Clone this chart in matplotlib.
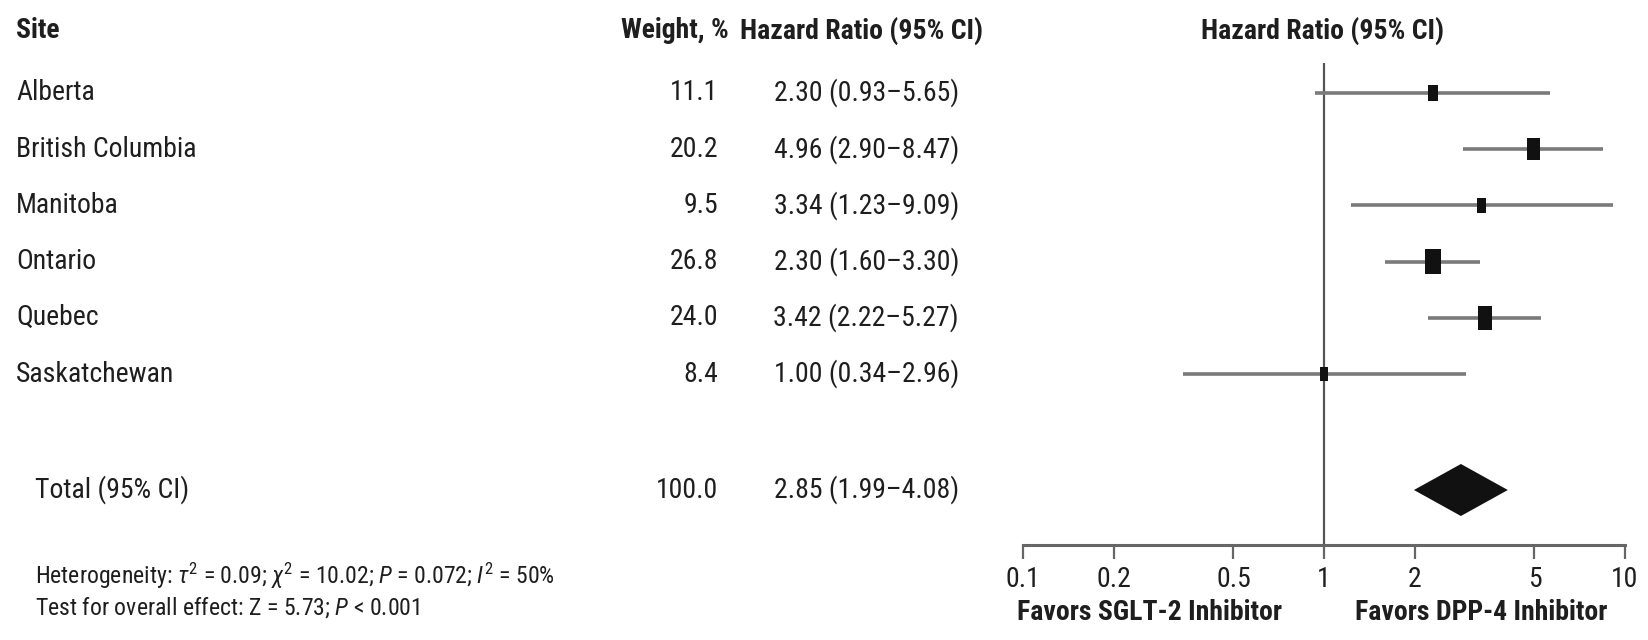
import numpy as np
import matplotlib
matplotlib.use("Agg")
import matplotlib.pyplot as plt
from matplotlib.path import Path
from matplotlib import font_manager

# ---------------- data ----------------
sites = ["Alberta", "British Columbia", "Manitoba", "Ontario", "Quebec", "Saskatchewan"]
weights = [11.1, 20.2, 9.5, 26.8, 24.0, 8.4]
hr = [2.30, 4.96, 3.34, 2.30, 3.42, 1.00]
ci_low = [0.93, 2.90, 1.23, 1.60, 2.22, 0.34]
ci_high = [5.65, 8.47, 9.09, 3.30, 5.27, 2.96]

total_label = "Total (95% CI)"
total_weight = 100.0
total_hr = 2.85
total_low = 1.99
total_high = 4.08

het_text = r"Heterogeneity: $\tau^2$ = 0.09; $\chi^2$ = 10.02; $P$ = 0.072; $I^2$ = 50%"
test_text = r"Test for overall effect: Z = 5.73; $P$ < 0.001"

xticks = [0.1, 0.2, 0.5, 1, 2, 5, 10]
xtick_labels = ["0.1", "0.2", "0.5", "1", "2", "5", "10"]
favors_left = "Favors SGLT-2 Inhibitor"
favors_right = "Favors DPP-4 Inhibitor"
col_headers = ["Site", "Weight, %", "Hazard Ratio (95% CI)"]
plot_title = "Hazard Ratio (95% CI)"

# ---------------- font choice ----------------
names = {f.name for f in font_manager.fontManager.ttflist}
cands = ["Roboto Condensed", "Liberation Sans Narrow", "Open Sans Condensed",
         "Noto Sans Condensed", "Roboto", "Liberation Sans", "DejaVu Sans"]
FONT = next(c for c in cands if c in names or c == "DejaVu Sans")
plt.rcParams["font.family"] = [FONT, "DejaVu Sans"]
plt.rcParams["mathtext.fontset"] = "custom"
plt.rcParams["mathtext.rm"] = FONT
plt.rcParams["mathtext.it"] = FONT + ":italic"
plt.rcParams["mathtext.bf"] = FONT + ":bold"

TXT = "#1e1e1e"
W, H = 1649, 640
fig = plt.figure(figsize=(W / 100, H / 100), dpi=100)
renderer = fig.canvas.get_renderer()

# fit font size so that a site label has the reference width (~180 px)
probe = fig.text(0, 0, "British Columbia", fontsize=20)
pw = probe.get_window_extent(renderer).width
probe.remove()
FS = min(22.0, 20 * 180.0 / pw)
FS_NOTE = FS * 0.86

# pixel layout
row0, row_step = 93.0, 56.2
total_y = 490.0
axis_y = 545.0
x_left, x_right = 1023.0, 1625.0

def row_y(i):
    return row0 + row_step * i

tax = fig.add_axes([0, 0, 1, 1])
tax.set_xlim(0, W)
tax.set_ylim(H, 0)
tax.axis("off")

ax = fig.add_axes([x_left / W, (H - axis_y) / H, (x_right - x_left) / W, axis_y / H])
ax.set_xscale("log")
ax.set_xlim(0.1, 10)
ax.set_ylim(axis_y, 0)
ax.patch.set_alpha(0)

HW = "semibold"
tax.text(16, 31, col_headers[0], fontsize=FS, fontweight=HW, color=TXT, va="center", ha="left")
tax.text(729, 31, col_headers[1], fontsize=FS, fontweight=HW, color=TXT, va="center", ha="right")
tax.text(862, 31, col_headers[2], fontsize=FS, fontweight=HW, color=TXT, va="center", ha="center")
tax.text(1323, 31, plot_title, fontsize=FS, fontweight=HW, color=TXT, va="center", ha="center")

for i, (s, w, h, lo, hi) in enumerate(zip(sites, weights, hr, ci_low, ci_high)):
    y = row_y(i)
    tax.text(16, y, s, fontsize=FS, color=TXT, va="center", ha="left")
    tax.text(718, y, f"{w:.1f}", fontsize=FS, color=TXT, va="center", ha="right")
    tax.text(959, y, f"{h:.2f} ({lo:.2f}\u2013{hi:.2f})", fontsize=FS, color=TXT, va="center", ha="right")

tax.text(35, total_y, total_label, fontsize=FS, color=TXT, va="center", ha="left")
tax.text(718, total_y, f"{total_weight:.1f}", fontsize=FS, color=TXT, va="center", ha="right")
tax.text(959, total_y, f"{total_hr:.2f} ({total_low:.2f}\u2013{total_high:.2f})", fontsize=FS,
         color=TXT, va="center", ha="right")

tax.text(35, 576, het_text, fontsize=FS_NOTE, color=TXT, va="center", ha="left")
tax.text(35, 608, test_text, fontsize=FS_NOTE, color=TXT, va="center", ha="left")

# null line
ax.plot([1, 1], [63, axis_y], color="#555555", lw=1.6, zorder=1, solid_capstyle="butt")

rect = Path([(-0.3, -0.5), (0.3, -0.5), (0.3, 0.5), (-0.3, 0.5), (-0.3, -0.5)],
            [Path.MOVETO, Path.LINETO, Path.LINETO, Path.LINETO, Path.CLOSEPOLY])
ys = [row_y(i) for i in range(len(sites))]
ax.hlines(ys, ci_low, ci_high, color="#7a7a7a", lw=2.6, zorder=2)
ax.scatter(hr, ys, marker=rect, s=[12.5 * w for w in weights], color="#111111", zorder=3, linewidths=0)

dh = 26
ax.fill([total_low, total_hr, total_high, total_hr],
        [total_y, total_y - dh, total_y, total_y + dh], color="#111111", zorder=3, lw=0)

for sp in ["top", "left", "right"]:
    ax.spines[sp].set_visible(False)
ax.spines["bottom"].set_color("#666666")
ax.spines["bottom"].set_linewidth(2.2)
ax.set_yticks([])
ax.set_xticks(xticks)
ax.set_xticklabels(xtick_labels)
ax.xaxis.set_minor_locator(matplotlib.ticker.NullLocator())
ax.tick_params(axis="x", direction="out", length=10, width=1.6, color="#666666",
               labelsize=FS, labelcolor=TXT, pad=5)

tax.text(1282, 613, favors_left, fontsize=FS, fontweight=HW, color=TXT, va="center", ha="right")
tax.text(1355, 613, favors_right, fontsize=FS, fontweight=HW, color=TXT, va="center", ha="left")

fig.savefig("out.png", dpi=100)
